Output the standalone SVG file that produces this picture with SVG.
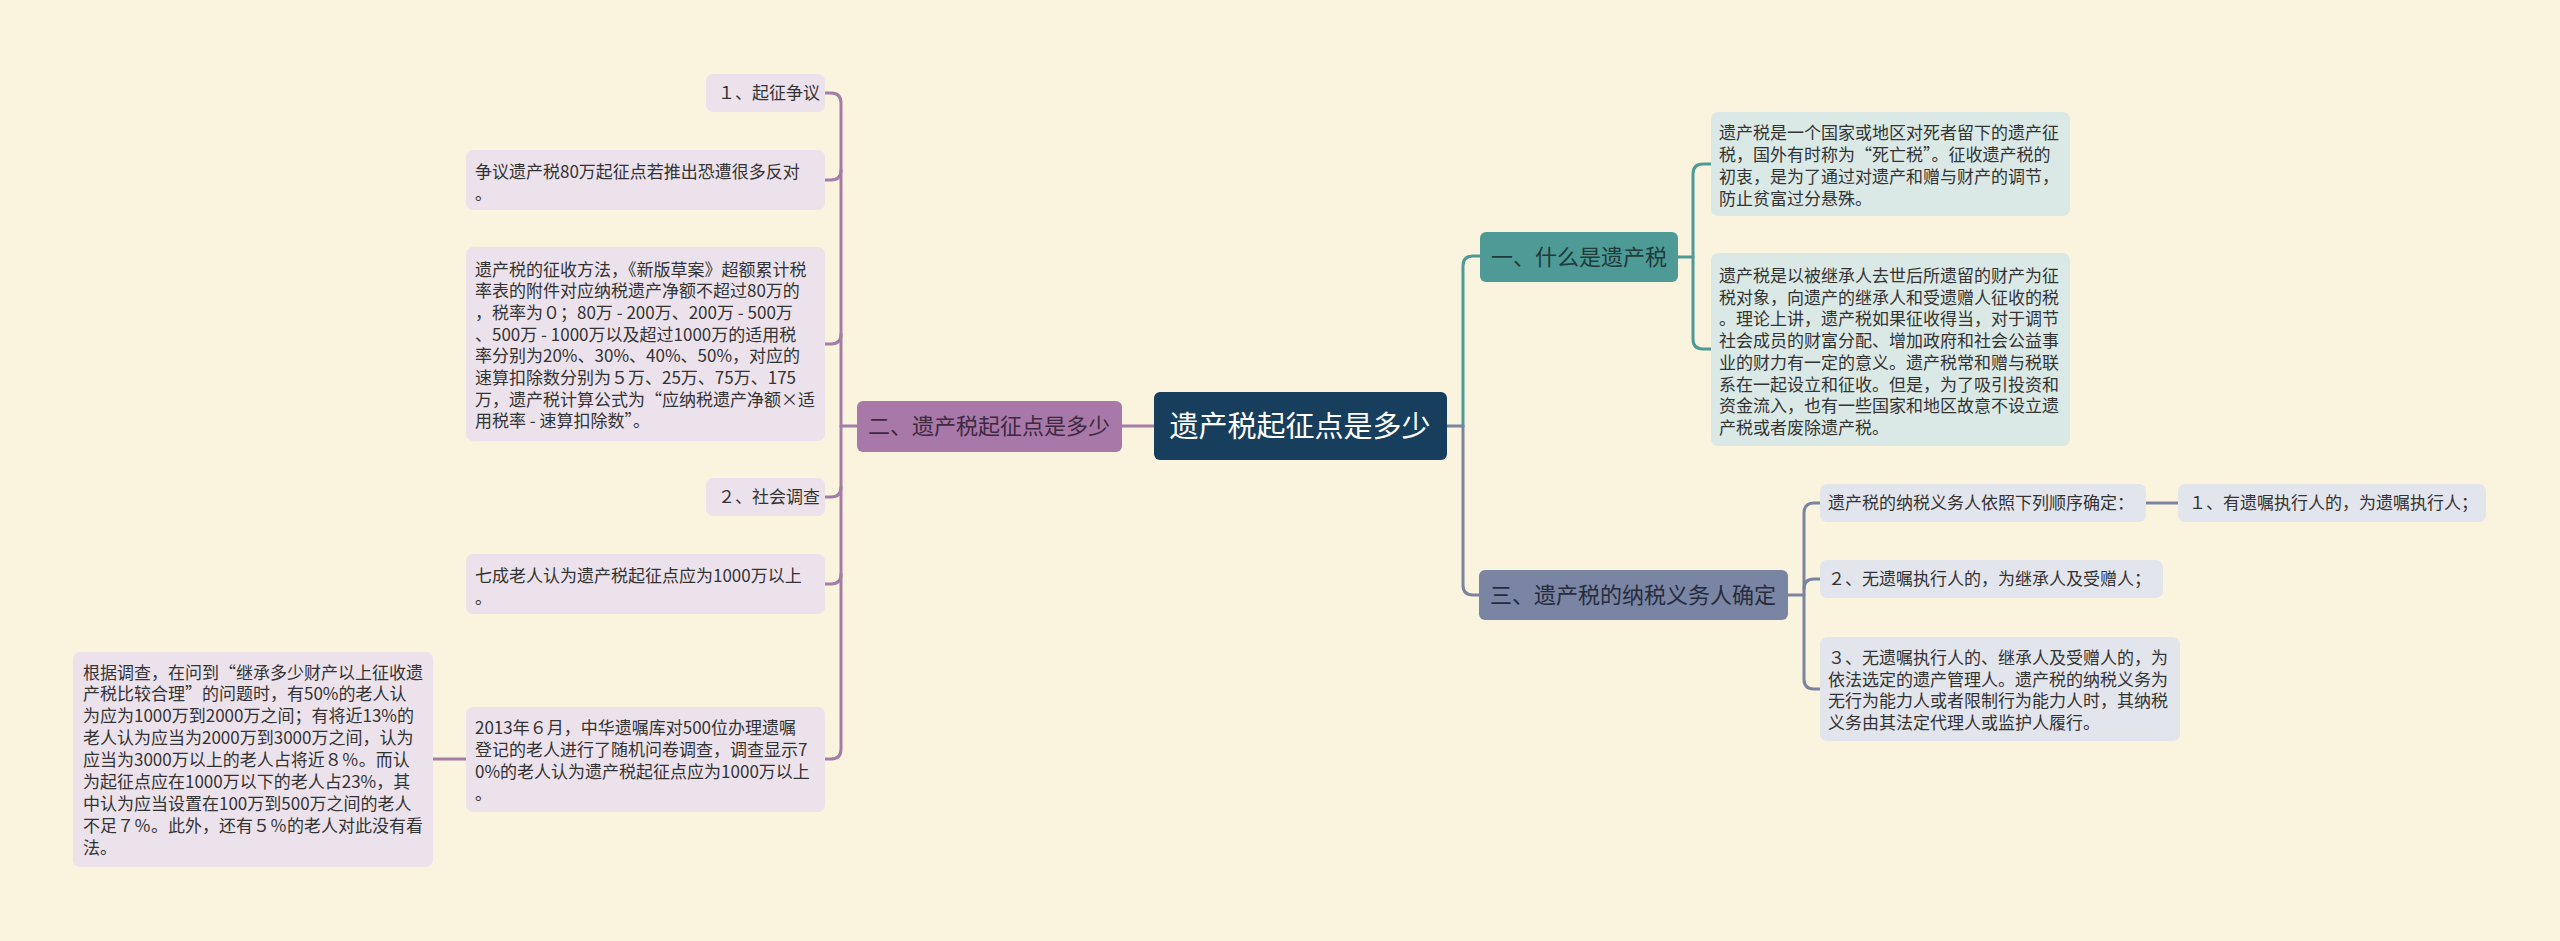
<svg xmlns="http://www.w3.org/2000/svg" width="2560" height="941" viewBox="0 0 2560 941">
<style>
text{font-family:"Noto Sans CJK SC","Noto Sans",sans-serif;}
.leaf{font-size:17px;fill:#333333;}
.br{font-size:22px;}
.lp{fill:#ece2ec;}
.lt{fill:#dbe9e6;}
.lg{fill:#e3e5ec;}
.c{fill:none;stroke-width:3;stroke-linecap:round;}
.cp{stroke:#a57ca6;}
.ct{stroke:#4e9a97;}
.cg{stroke:#7a84a0;}
</style>
<rect x="0" y="0" width="2560" height="941" fill="#faf4de"/>
<g id="connectors">
<path class="c cp" d="M1154,426 H1122"/>
<path class="c cp" d="M857,426 H841"/>
<path class="c cp" d="M825,93 H831 Q841,93 841,103 V749 Q841,759 831,759 H825"/>
<path class="c cp" d="M841,170 Q841,180 831,180 H825"/>
<path class="c cp" d="M841,334 Q841,344 831,344 H825"/>
<path class="c cp" d="M841,487 Q841,497 831,497 H825"/>
<path class="c cp" d="M841,574 Q841,584 831,584 H825"/>
<path class="c cp" d="M466,759 H433"/>
<path class="c cg" d="M1447,426 H1463"/>
<path class="c ct" d="M1463,426 V266 Q1463,256 1473,256 H1480"/>
<path class="c cg" d="M1463,426 V585 Q1463,595 1473,595 H1479"/>
<path class="c ct" d="M1678,257 H1693"/>
<path class="c ct" d="M1711,164 H1703 Q1693,164 1693,174 V339 Q1693,349 1703,349 H1711"/>
<path class="c cg" d="M1788,595 H1804"/>
<path class="c cg" d="M1820,503 H1814 Q1804,503 1804,513 V679 Q1804,689 1814,689 H1820"/>
<path class="c cg" d="M1804,589 Q1804,579 1814,579 H1820"/>
<path class="c cg" d="M2146,503 H2178"/>
</g>
<g id="root">
<rect x="1154" y="392" width="293" height="68" rx="6" fill="#173e5c"/>
<text x="1300" y="437" font-size="29" fill="#ffffff" text-anchor="middle">遗产税起征点是多少</text>
</g>
<g id="branch2">
<rect x="857" y="401" width="265" height="51" rx="6" fill="#a878a8"/>
<text class="br" x="989" y="434" fill="#3d2a3f" text-anchor="middle">二、遗产税起征点是多少</text>
</g>
<g id="branch1">
<rect x="1480" y="232" width="198" height="50" rx="6" fill="#4e9a97"/>
<text class="br" x="1579" y="265" fill="#1f3b3a" text-anchor="middle">一、什么是遗产税</text>
</g>
<g id="branch3">
<rect x="1479" y="570" width="309" height="50" rx="6" fill="#7a84a3"/>
<text class="br" x="1633" y="603" fill="#272c3d" text-anchor="middle">三、遗产税的纳税义务人确定</text>
</g>
<g id="leafA">
<rect class="lt" x="1711" y="112" width="359" height="104" rx="7"/>
<text class="leaf" x="1719"><tspan x="1719" y="139">遗产税是一个国家或地区对死者留下的遗产征</tspan><tspan x="1719" y="161">税，国外有时称为“死亡税”。征收遗产税的</tspan><tspan x="1719" y="183">初衷，是为了通过对遗产和赠与财产的调节，</tspan><tspan x="1719" y="205">防止贫富过分悬殊。</tspan></text>
</g>
<g id="leafB">
<rect class="lt" x="1711" y="253" width="359" height="193" rx="7"/>
<text class="leaf" x="1719"><tspan x="1719" y="282">遗产税是以被继承人去世后所遗留的财产为征</tspan><tspan x="1719" y="303.7">税对象，向遗产的继承人和受遗赠人征收的税</tspan><tspan x="1719" y="325.4">。理论上讲，遗产税如果征收得当，对于调节</tspan><tspan x="1719" y="347.1">社会成员的财富分配、增加政府和社会公益事</tspan><tspan x="1719" y="368.8">业的财力有一定的意义。遗产税常和赠与税联</tspan><tspan x="1719" y="390.5">系在一起设立和征收。但是，为了吸引投资和</tspan><tspan x="1719" y="412.2">资金流入，也有一些国家和地区故意不设立遗</tspan><tspan x="1719" y="433.9">产税或者废除遗产税。</tspan></text>
</g>
<g id="leafC1">
<rect class="lg" x="1820" y="484" width="326" height="38" rx="7"/>
<text class="leaf" x="1828" y="509">遗产税的纳税义务人依照下列顺序确定：</text>
</g>
<g id="leafC1a">
<rect class="lg" x="2178" y="484" width="308" height="38" rx="7"/>
<text class="leaf" x="2189" y="509">１、有遗嘱执行人的，为遗嘱执行人；</text>
</g>
<g id="leafC2">
<rect class="lg" x="1820" y="560" width="343" height="38" rx="7"/>
<text class="leaf" x="1828" y="585">２、无遗嘱执行人的，为继承人及受赠人；</text>
</g>
<g id="leafC3">
<rect class="lg" x="1820" y="637" width="360" height="104" rx="7"/>
<text class="leaf" x="1828"><tspan x="1828" y="664">３、无遗嘱执行人的、继承人及受赠人的，为</tspan><tspan x="1828" y="685.7">依法选定的遗产管理人。遗产税的纳税义务为</tspan><tspan x="1828" y="707.4">无行为能力人或者限制行为能力人时，其纳税</tspan><tspan x="1828" y="729.1">义务由其法定代理人或监护人履行。</tspan></text>
</g>
<g id="leafL1">
<rect class="lp" x="706" y="74" width="119" height="38" rx="7"/>
<text class="leaf" x="718" y="99">１、起征争议</text>
</g>
<g id="leafL2">
<rect class="lp" x="466" y="150" width="359" height="60" rx="7"/>
<text class="leaf" x="475"><tspan x="475" y="178">争议遗产税80万起征点若推出恐遭很多反对</tspan><tspan x="475" y="200">。</tspan></text>
</g>
<g id="leafL3">
<rect class="lp" x="466" y="247" width="359" height="194" rx="7"/>
<text class="leaf" x="475"><tspan x="475" y="275.5">遗产税的征收方法，《新版草案》超额累计税</tspan><tspan x="475" y="297.2">率表的附件对应纳税遗产净额不超过80万的</tspan><tspan x="475" y="318.9">，税率为０；80万 - 200万、200万 - 500万</tspan><tspan x="475" y="340.6">、500万 - 1000万以及超过1000万的适用税</tspan><tspan x="475" y="362.3">率分别为20%、30%、40%、50%，对应的</tspan><tspan x="475" y="384">速算扣除数分别为５万、25万、75万、175</tspan><tspan x="475" y="405.7">万，遗产税计算公式为“应纳税遗产净额×适</tspan><tspan x="475" y="427.4">用税率 - 速算扣除数”。</tspan></text>
</g>
<g id="leafL4">
<rect class="lp" x="706" y="478" width="119" height="38" rx="7"/>
<text class="leaf" x="718" y="503">２、社会调查</text>
</g>
<g id="leafL5">
<rect class="lp" x="466" y="554" width="359" height="60" rx="7"/>
<text class="leaf" x="475"><tspan x="475" y="582">七成老人认为遗产税起征点应为1000万以上</tspan><tspan x="475" y="604">。</tspan></text>
</g>
<g id="leafL6">
<rect class="lp" x="466" y="707" width="359" height="105" rx="7"/>
<text class="leaf" x="475"><tspan x="475" y="734">2013年６月，中华遗嘱库对500位办理遗嘱</tspan><tspan x="475" y="756">登记的老人进行了随机问卷调查，调查显示7</tspan><tspan x="475" y="778">0%的老人认为遗产税起征点应为1000万以上</tspan><tspan x="475" y="800">。</tspan></text>
</g>
<g id="leafL7">
<rect class="lp" x="73" y="652" width="360" height="215" rx="7"/>
<text class="leaf" x="83"><tspan x="83" y="678.5">根据调查，在问到“继承多少财产以上征收遗</tspan><tspan x="83" y="700.4">产税比较合理”的问题时，有50%的老人认</tspan><tspan x="83" y="722.3">为应为1000万到2000万之间；有将近13%的</tspan><tspan x="83" y="744.2">老人认为应当为2000万到3000万之间，认为</tspan><tspan x="83" y="766.1">应当为3000万以上的老人占将近８％。而认</tspan><tspan x="83" y="788">为起征点应在1000万以下的老人占23%，其</tspan><tspan x="83" y="809.9">中认为应当设置在100万到500万之间的老人</tspan><tspan x="83" y="831.8">不足７％。此外，还有５％的老人对此没有看</tspan><tspan x="83" y="853.7">法。</tspan></text>
</g>
</svg>
